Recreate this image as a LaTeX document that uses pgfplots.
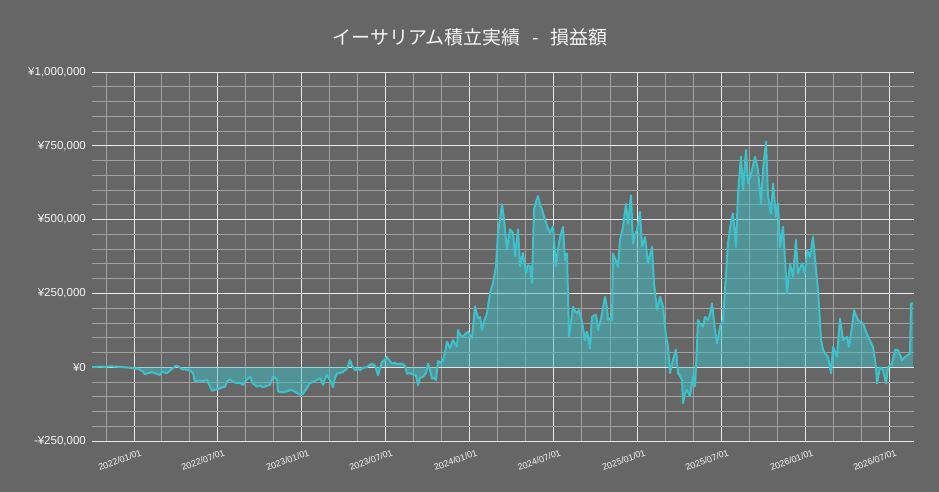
\documentclass[border=0pt]{standalone}
\usepackage{pgfplots}
\pgfplotsset{compat=1.18}
\usepackage{pgfplotstable}
\usepackage{fontspec}
\setmainfont{Liberation Sans}
\newfontfamily\cjk{Noto Sans CJK JP}
\definecolor{bg}{RGB}{102,102,102}
\definecolor{ethline}{RGB}{64,192,200}
\definecolor{minorgrid}{RGB}{160,160,160}
\definecolor{majorgrid}{RGB}{235,235,235}
\definecolor{txt}{RGB}{245,245,245}
% x = position on the date axis (2022/01/01 = 134, 2026/07/01 = 889), y = profit in thousand yen
\pgfplotstableread{
x y
92 0
96 1
100 2
105 1
110 3
115 2
120 1
123 0
128 -1
134 -4
138 -5
143 -15
145 -24
148 -20
152 -17
156 -22
160 -26
162 -15
165 -19
167 -20
171 -8
174 0
176 5
179 1
182 -7
186 -8
190 -11
193 -20
195 -49
199 -45
203 -47
207 -43
210 -65
212 -80
215 -76
218 -75
221 -70
225 -66
227 -49
230 -41
233 -50
237 -54
240 -52
243 -60
246 -45
250 -32
253 -55
257 -66
260 -62
263 -68
267 -63
270 -60
273 -32
275 -35
277 -43
278 -82
282 -85
287 -82
290 -78
293 -79
297 -88
300 -93
303 -90
306 -75
310 -54
314 -48
317 -43
320 -37
323 -60
325 -40
327 -26
330 -44
333 -67
335 -35
337 -22
340 -20
343 -16
347 -5
350 24
352 5
355 -10
358 -5
360 -10
363 -2
367 0
370 8
372 12
375 5
378 -27
380 -5
382 18
385 25
387 35
390 20
392 12
395 15
397 10
400 12
403 10
405 5
407 -22
410 -20
413 -25
416 -28
418 -61
420 -35
423 -33
426 -20
428 12
430 -10
432 -39
434 -35
436 -44
438 22
440 15
443 24
445 50
447 86
450 64
453 92
455 80
457 69
458 126
460 110
463 103
466 115
468 120
470 108
472 98
475 206
478 166
480 170
482 126
484 155
487 183
490 251
493 285
496 342
498 455
500 500
502 552
504 501
507 398
510 467
513 455
515 376
518 467
520 342
523 387
526 319
528 345
530 342
532 285
534 535
536 560
538 580
540 550
542 535
544 510
546 490
548 470
550 455
553 478
556 342
558 400
560 440
563 475
565 362
567 385
569 104
571 150
573 205
575 190
577 182
579 194
582 154
585 92
587 120
588 104
590 64
592 171
594 175
596 177
598 126
600 150
602 182
605 239
607 200
608 160
610 165
612 160
613 385
616 360
618 340
620 430
623 475
626 554
628 487
631 582
633 419
635 450
637 464
640 526
642 408
645 441
648 351
650 380
652 408
654 284
657 194
660 239
663 205
666 104
668 70
670 -20
673 25
676 59
678 -20
680 -30
682 -43
683 -122
685 -90
687 -77
690 -99
693 -32
695 -65
697 70
698 160
700 148
703 137
705 171
708 160
710 180
712 216
715 126
717 80
720 137
723 160
725 262
728 420
730 470
732 510
733 521
736 407
738 589
741 713
743 600
746 736
748 623
750 640
752 668
755 713
758 668
761 555
763 668
766 764
768 578
771 521
773 623
776 510
778 555
780 407
783 476
785 363
787 250
790 352
793 306
796 431
798 318
802 352
805 318
807 397
810 374
813 442
816 329
818 262
821 92
823 60
825 46
828 35
831 -21
833 69
837 35
840 165
843 92
847 103
849 69
852 137
854 193
856 175
858 160
863 148
868 103
873 69
876 0
877 -55
880 0
883 -10
886 -55
888 0
892 12
895 58
898 58
902 24
905 35
910 46
911 216
913 216
}\ethdata
\begin{document}
\begin{tikzpicture}
\fill[bg] (0,0) rectangle (939pt,492pt);
\node[text=txt, font=\cjk\fontsize{19}{21}\selectfont] at (470pt,455pt) {イーサリアム積立実績\hspace{0.6em}-\hspace{0.6em}損益額};
\begin{axis}[
  at={(92pt,51pt)}, anchor=south west,
  width=822pt, height=369pt, scale only axis,
  xmin=92, xmax=914, ymin=-250, ymax=1000,
  axis line style={draw=none},
  major tick length=0pt, minor tick length=0pt,
  xtick={134,217.2,301.8,385.1,469.7,553.3,637.9,721.2,805.8,889},
  xticklabels={2022/01/01,2022/07/01,2023/01/01,2023/07/01,2024/01/01,2024/07/01,2025/01/01,2025/07/01,2026/01/01,2026/07/01},
  minor xtick={106,161.1,189.2,245.7,273.8,329,357,413.6,441.6,497.2,525.3,581.8,609.9,665.1,693.1,749.7,777.7,832.9,861},
  ytick={-250,0,250,500,750,1000},
  yticklabels={{-¥250,000},{¥0},{¥250,000},{¥500,000},{¥750,000},{¥1,000,000}},
  minor ytick={-200,-150,-100,-50,50,100,150,200,300,350,400,450,550,600,650,700,800,850,900,950},
  grid=both,
  major grid style={draw=majorgrid, line width=0.9pt},
  minor grid style={draw=minorgrid, line width=0.8pt},
  yticklabel style={font=\fontsize{11.5}{12}\selectfont, text=txt, anchor=east, inner sep=0pt, xshift=-6pt},
  xticklabel style={font=\fontsize{9}{10}\selectfont, text=txt, inner sep=0pt, xshift=6pt, yshift=-8pt, rotate=20, anchor=north east},
]
\addplot[draw=none, fill=ethline, fill opacity=0.5] table[x=x,y=y] {\ethdata} \closedcycle;
\addplot[ethline, line width=2pt, line join=round] table[x=x,y=y] {\ethdata};
\end{axis}
\end{tikzpicture}
\end{document}
